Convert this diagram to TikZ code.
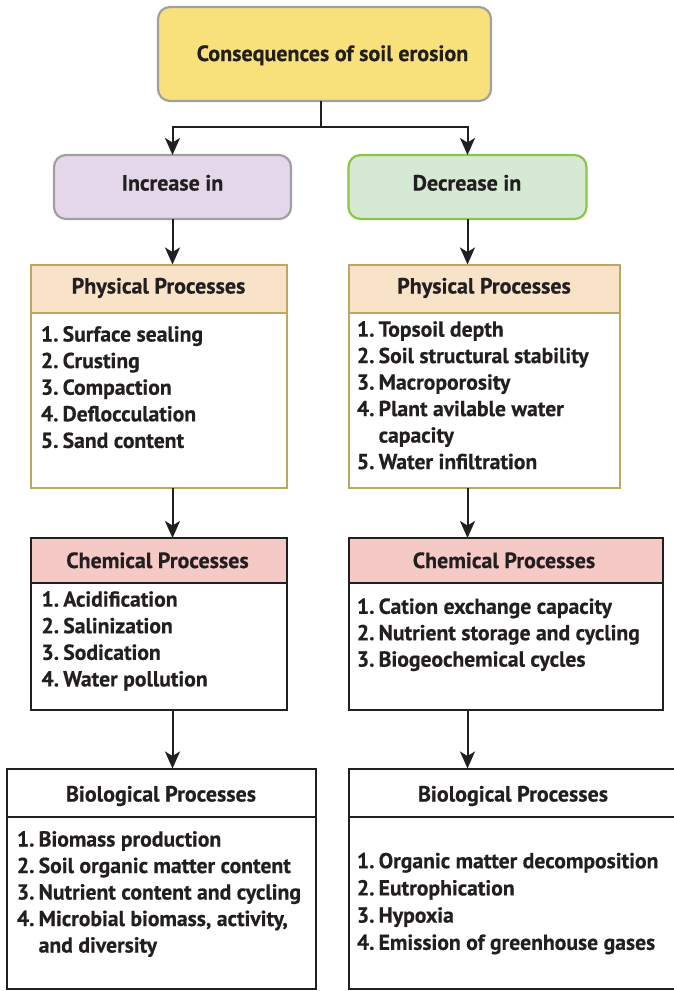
\documentclass[tikz,border=0pt]{standalone}
\usepackage{fontspec}
\setmainfont{PT Sans}[BoldFeatures={FakeBold=0.5}]
\usetikzlibrary{arrows.meta}

\definecolor{ink}{HTML}{231F20}
\definecolor{titlefill}{HTML}{F8E17A}
\definecolor{greyline}{HTML}{A0A0A0}
\definecolor{incfill}{HTML}{E3D7E9}
\definecolor{decfill}{HTML}{D6E9D5}
\definecolor{decline}{HTML}{8DC540}
\definecolor{physfill}{HTML}{F8E3C9}
\definecolor{physline}{HTML}{BBA865}
\definecolor{chemfill}{HTML}{F4C9C6}

% list number with a tight gap before the entry text
\newcommand\itemno[1]{#1.\kern4.2pt}
% indent of a wrapped entry line
\newcommand\wrapin{\phantom{\itemno4}}

\newlength\mw
% font size (pt) that makes #2 exactly #1 pt wide
\newcommand\sizefor[3]{%
  \settowidth\mw{\bfseries\fontsize{10pt}{12pt}\selectfont #2}%
  \pgfmathsetmacro#3{10*#1/\mw}}

\AtBeginDocument{%
  \sizefor{165.3}{\itemno1Surface sealing}{\sa}%
  \sizefor{289.3}{\itemno3Nutrient content and cycling}{\sb}%
  \sizefor{309.3}{\itemno1Organic matter decomposition}{\sc}%
  \pgfmathsetmacro\itemsz{(\sa+\sb+\sc)/3}%
  \sizefor{173.3}{Physical Processes}{\ha}%
  \sizefor{183.3}{Chemical Processes}{\hb}%
  \sizefor{189.5}{Biological Processes}{\hc}%
  \pgfmathsetmacro\headsz{(\ha+\hb+\hc)/3}%
  \sizefor{271.6}{Consequences of soil erosion}{\titlesz}%
}

\newcommand\itemfont{\bfseries\fontsize{\itemsz pt}{\itemsz pt}\selectfont}
\newcommand\headfont{\bfseries\fontsize{\headsz pt}{\headsz pt}\selectfont}
\newcommand\titlefont{\bfseries\fontsize{\titlesz pt}{\titlesz pt}\selectfont}

\tikzset{
  frame/.style={draw=ink, line width=2pt, rectangle, anchor=north west,
    inner sep=0pt, outer sep=0pt},
  pill/.style={frame, rounded corners=12pt, line width=2.2pt},
  heading/.style={anchor=base, text=ink, inner sep=0pt, font=\headfont},
  entry/.style={anchor=base west, text=ink, inner sep=0pt, font=\itemfont},
  flow/.style={draw=ink, line width=2pt,
    -{Stealth[length=17pt,width=15pt,inset=4.5pt]}},
}

\begin{document}
\begin{tikzpicture}[x=1pt,y=-1pt]
  \useasboundingbox (0,0) rectangle (673,991);

  % top level
  \node[pill, draw=greyline, fill=titlefill, minimum width=333, minimum height=94]
    (top) at (158,7) {};
  \node[heading, font=\titlefont] (topT) at (332.5,61) {Consequences of soil erosion};

  \node[pill, draw=greyline, fill=incfill, minimum width=237, minimum height=64]
    (inc) at (54,155) {};
  \node[heading] (incT) at (172.5,190.5) {Increase in};
  \node[pill, draw=decline, fill=decfill, minimum width=238, minimum height=64]
    (dec) at (348.5,155) {};
  \node[heading] (decT) at (467,190.5) {Decrease in};

  % physical processes
  \node[frame, draw=physline, fill=physfill, minimum width=256, minimum height=48.5]
    (lphysH) at (30.5,264.5) {};
  \node[frame, draw=physline, minimum width=256, minimum height=223]
    (lphys) at (30.5,264.5) {};
  \node[heading] (lphysT) at (158.5,293.5) {Physical Processes};
  \node[frame, draw=physline, fill=physfill, minimum width=271, minimum height=48.5]
    (rphysH) at (348.5,264.5) {};
  \node[frame, draw=physline, minimum width=271, minimum height=223]
    (rphys) at (348.5,264.5) {};
  \node[heading] (rphysT) at (484,293.5) {Physical Processes};

  % chemical processes
  \node[frame, fill=chemfill, minimum width=256, minimum height=45]
    (lchemH) at (30.5,538) {};
  \node[frame, minimum width=256, minimum height=171.5]
    (lchem) at (30.5,538) {};
  \node[heading] (lchemT) at (157.5,568) {Chemical Processes};
  \node[frame, fill=chemfill, minimum width=314.5, minimum height=45]
    (rchemH) at (348.5,538) {};
  \node[frame, minimum width=314.5, minimum height=171.5]
    (rchem) at (348.5,538) {};
  \node[heading] (rchemT) at (504,568) {Chemical Processes};

  % biological processes
  \node[frame, minimum width=308.5, minimum height=48]
    (lbioH) at (7,768.5) {};
  \node[frame, minimum width=308.5, minimum height=220.5]
    (lbio) at (7,768.5) {};
  \node[heading] (lbioT) at (161,801.5) {Biological Processes};
  \node[frame, minimum width=330, minimum height=48]
    (rbioH) at (348.5,768.5) {};
  \node[frame, minimum width=330, minimum height=220.5]
    (rbio) at (348.5,768.5) {};
  \node[heading] (rbioT) at (513,801.5) {Biological Processes};

  % entries
  \foreach \t [count=\i from 0] in {\itemno1Surface sealing, \itemno2Crusting,
      \itemno3Compaction, \itemno4Deflocculation, \itemno5Sand content}
    \node[entry] (lp\i) at (40.7,341.5+26.6*\i) {\t};
  \foreach \t [count=\i from 0] in {\itemno1Topsoil depth,
      \itemno2Soil structural stability, \itemno3Macroporosity,
      \itemno4Plant avilable water, \wrapin capacity,
      \itemno5Water infiltration}
    \node[entry] (rp\i) at (356.7,336.6+26.5*\i) {\t};
  \foreach \t [count=\i from 0] in {\itemno1Acidification, \itemno2Salinization,
      \itemno3Sodication, \itemno4Water pollution}
    \node[entry] (lc\i) at (41.3,606.6+26.6*\i) {\t};
  \foreach \t [count=\i from 0] in {\itemno1Cation exchange capacity,
      \itemno2Nutrient storage and cycling, \itemno3Biogeochemical cycles}
    \node[entry] (rc\i) at (356.7,613.8+26.4*\i) {\t};
  \foreach \t [count=\i from 0] in {\itemno1Biomass production,
      \itemno2Soil organic matter content, \itemno3Nutrient content and cycling,
      {\itemno4Microbial biomass, activity,}, \wrapin and diversity}
    \node[entry] (lb\i) at (16.7,846.5+26.5*\i) {\t};
  \foreach \t [count=\i from 0] in {\itemno1Organic matter decomposition,
      \itemno2Eutrophication, \itemno3Hypoxia, \itemno4Emission of greenhouse gases}
    \node[entry] (rb\i) at (356.7,868.2+27.2*\i) {\t};

  % connectors
  \coordinate (split) at (320.5,127.3);
  \draw[draw=ink, line width=2pt] (top.south -| split) -- (split);
  \draw[flow] (split) -| (inc.north);
  \draw[flow] (split) -| (dec.north);
  \draw[flow] (inc.south) -- (inc.south |- lphys.north);
  \draw[flow] (dec.south) -- (dec.south |- rphys.north);
  \draw[flow] (inc.south |- lphys.south) -- (inc.south |- lchem.north);
  \draw[flow] (dec.south |- rphys.south) -- (dec.south |- rchem.north);
  \draw[flow] (inc.south |- lchem.south) -- (inc.south |- lbio.north);
  \draw[flow] (dec.south |- rchem.south) -- (dec.south |- rbio.north);
\end{tikzpicture}
\end{document}
